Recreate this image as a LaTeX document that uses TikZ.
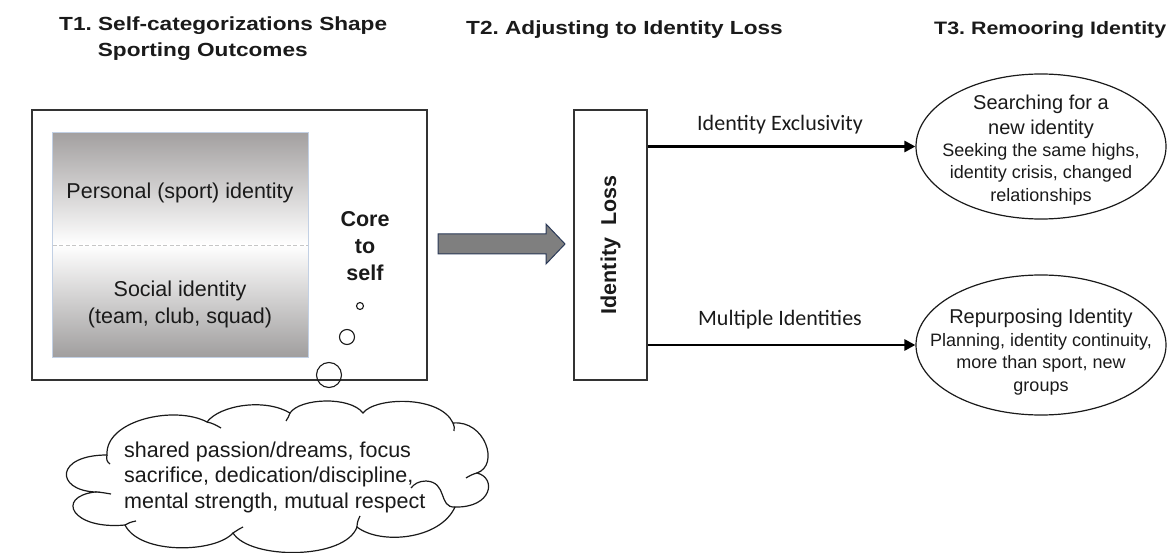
\documentclass[tikz,border=0pt]{standalone}
\usepackage{fontspec}
\setmainfont{Liberation Sans}
\newfontfamily\calib{Carlito}
\newfontfamily\headfont[FakeStretch=1.19]{Liberation Sans Bold}
\usetikzlibrary{arrows.meta,shapes.geometric}

\newcommand\fsz[2]{\fontsize{#1}{#2}\selectfont}

\definecolor{ink}{HTML}{1A1A1A}
\definecolor{boxline}{HTML}{333333}
\definecolor{gtop}{RGB}{163,160,160}
\definecolor{gbot}{RGB}{160,158,158}
\definecolor{panelrim}{HTML}{C2D0E4}
\definecolor{arrowfill}{HTML}{7F7F7F}
\definecolor{arrowrim}{HTML}{2B3A58}

\tikzset{
  title/.style={font=\headfont\fsz{19}{26}\frenchspacing, text=ink, inner sep=0pt},
  body/.style={font=\fsz{21.5}{27}, text=ink, inner sep=0pt, align=center},
  frame/.style={draw=boxline, line width=1.5pt, inner sep=0pt},
  bubble/.style={draw=ink, line width=1.1pt, circle, inner sep=0pt},
  outcome/.style={draw=ink, line width=1.2pt, ellipse, inner sep=0pt, minimum width=250pt},
  head/.style={font=\fsz{20}{25}, text=ink, inner sep=0pt, align=center},
  detail/.style={font=\fsz{18}{22.5}, text=ink, inner sep=0pt, align=center},
  pathlabel/.style={font=\calib\fsz{22}{26}, text=ink, inner sep=0pt},
  flowline/.style={line width=2.8pt, -{Triangle[length=11pt,width=11pt]}},
  blockarrow/.style={draw=arrowrim, fill=arrowfill, line width=1pt, line join=miter},
  cloudline/.style={draw=ink, line width=1.2pt},
}

\begin{document}
\begin{tikzpicture}[x=1pt,y=-1pt]
\useasboundingbox (0,0) rectangle (1168,553);

% ---- column headings
\node[title, anchor=base west] (t1a) at (59,30.7) {T1. Self-categorizations Shape};
\node[title, anchor=base west] (t1b) at (97.7,56.7) {Sporting Outcomes};
\node[title, anchor=base west] (t2) at (466,35) {T2. Adjusting to Identity Loss};
\node[title, anchor=base west, font=\headfont\fsz{18}{26}\frenchspacing] (t3) at (934,35) {T3. Remooring Identity};

% ---- T1: self-categorisation panel
\node[frame, minimum width=395pt, minimum height=270pt] (self) at (229.5,245) {};
\node[minimum width=255pt, minimum height=224pt, inner sep=0pt] (inner) at (180.5,245) {};
\shade[top color=gtop, bottom color=white]
  (inner.north west) rectangle (inner.east);
\shade[top color=white, bottom color=gbot]
  (inner.west) rectangle (inner.south east);
\draw[panelrim, line width=0.8pt] (inner.north west) rectangle (inner.south east);
\draw[gray!45, line width=0.9pt, dash pattern=on 4pt off 2.5pt]
  (inner.west) -- (inner.east);
\node[body] (personal) at (180,193) {Personal (sport) identity};
\node[body] (social) at (180,304.5) {Social identity\\(team, club, squad)};
\node[body, font=\fsz{21.5}{27}\bfseries] (core) at (365,246) {Core\\to\\self};

% thought bubbles
\node[bubble, minimum size=7pt] (b1) at (360,306) {};
\node[bubble, minimum size=15pt] (b2) at (347,337) {};
\node[bubble, minimum size=25pt] (b3) at (329,375) {};

% cloud of shared values
\path[cloudline, fill=white]
  (107,455) .. controls (105,420) and (175,405) .. (207,422)
  .. controls (220,405) and (265,398) .. (290,413)
  .. controls (300,398) and (350,396) .. (363,413)
  .. controls (375,397) and (440,395) .. (453,423)
  .. controls (485,420) and (500,465) .. (477,473)
  .. controls (497,478) and (492,508) .. (455,507)
  .. controls (440,540) and (380,545) .. (357,527)
  .. controls (345,560) and (250,560) .. (233,533)
  .. controls (215,553) and (140,555) .. (125,525)
  .. controls (72,530) and (55,497) .. (95,492)
  .. controls (55,490) and (55,455) .. (107,455) -- cycle;
% inner tails of the cloud lobes
\draw[cloudline] (107,455) .. controls (106,459) and (107,462) .. (110,464);
\draw[cloudline] (207,422) .. controls (212,423) and (216,425) .. (221,428);
\draw[cloudline] (290,413) .. controls (289,416) and (288,418) .. (286,421);
\draw[cloudline] (453,423) .. controls (454,426) and (455,428) .. (454,431);
\draw[cloudline] (477,473) .. controls (473,474) and (469,476) .. (466,478);
\draw[cloudline] (455,507) .. controls (438,508) and (448,482) .. (426,481)
  .. controls (419,481) and (414,484) .. (411,488);
\draw[cloudline] (357,527) .. controls (357,523) and (358,520) .. (360,516);
\draw[cloudline] (233,533) .. controls (236,531) and (239,529) .. (243,527);
\draw[cloudline] (125,525) .. controls (128,523) and (131,522) .. (136,521);
\draw[cloudline] (95,492) .. controls (100,492) and (105,493) .. (111,494);
\node[body, align=left, anchor=west, font=\fsz{21.5}{25.5}] (values) at (124,477)
  {shared passion/dreams, focus\\sacrifice, dedication/discipline,\\mental strength, mutual respect};

% ---- T2: transition
\coordinate (transition) at (438,244);
\path[blockarrow] (transition) ++(0,-10) -- ++(108,0) -- ++(0,-10) -- ++(19,20)
  -- ++(-19,20) -- ++(0,-10) -- ++(-108,0) -- cycle;
\node[frame, minimum width=73pt, minimum height=270pt] (loss) at (610.5,245) {};
\node[body, font=\fsz{21.5}{26}\bfseries, rotate=90] (losstext) at (loss.center) {Identity\ \ Loss};

% ---- T3: outcomes
\node[outcome, minimum height=145pt] (search) at (1041,146.5) {};
\node[outcome, minimum height=140pt] (repurpose) at (1041,345) {};

\node[head] (searchhead) at (1041,116.5) {Searching for a\\new identity};
\node[detail] (searchtext) at (1041,174) {Seeking the same highs,\\identity crisis, changed\\relationships};
\node[head] (repurposehead) at (1041,318) {Repurposing Identity};
\node[detail] (repurposetext) at (1041,364) {Planning, identity continuity,\\more than sport, new\\groups};

\draw[flowline] (loss.east |- search.west) -- (search.west);
\draw[flowline] (loss.east |- repurpose.west) -- (repurpose.west);
\node[pathlabel] (exclusive) at (780,125) {Identity Exclusivity};
\node[pathlabel] (multiple) at (780,320) {Multiple Identities};
\end{tikzpicture}
\end{document}
